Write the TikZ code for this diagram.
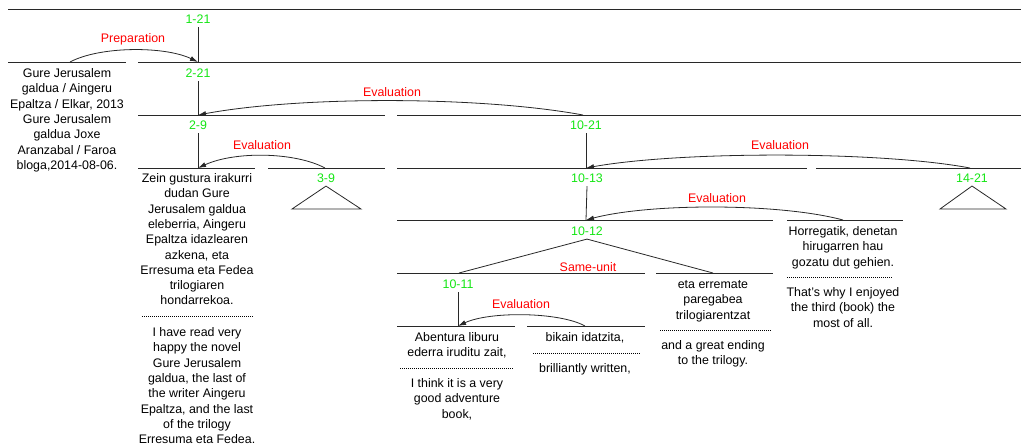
\documentclass[tikz,border=0pt]{standalone}
\usepackage{fontspec}
\setmainfont{Liberation Sans}
\usetikzlibrary{arrows.meta}
\definecolor{spangreen}{RGB}{20,230,20}
\definecolor{relred}{RGB}{255,0,0}
\definecolor{linegray}{RGB}{40,40,40}
\begin{document}
\begin{tikzpicture}[x=1pt,y=-1pt,
  every node/.style={font=\fontsize{12.4}{15.3}\selectfont},
  span/.style={text=spangreen, inner sep=3.5pt},
  rel/.style={text=relred, inner sep=0pt},
  seg/.style={draw=linegray, line width=0.8pt},
  txt/.style={align=center, inner sep=0pt, anchor=north},
  sep/.style={draw=black, line width=0.9pt, dash pattern=on 1pt off 1pt},
  arc/.style={draw=linegray, line width=0.8pt, -{Latex[length=8pt,width=5pt]}},
  tri/.style={draw=linegray, line width=0.8pt}
]
\useasboundingbox (0,0) rectangle (1021,447);

% horizontal span lines
\foreach \yy/\xa/\xb in {9/8/1021, 62/8/126, 62/138/1021,
    115/138/385, 115/397/1021,
    168/138/255, 168/268/385, 168/397/807, 168/816/1021,
    220/397/773, 220/787/903,
    273/397/645, 273/656/773,
    326/397/515, 326/527/645}
  \draw[seg] (\xa,\yy) -- (\xb,\yy);

% span labels
\node[span] (s121)  at (198,19)  {1-21};
\node[span] (s221)  at (198,73)  {2-21};
\node[span] (s29)   at (198,125) {2-9};
\node[span] (s1021) at (586,125) {10-21};
\node[span] (s39)   at (326,178) {3-9};
\node[span] (s1013) at (587,178) {10-13};
\node[span] (s1421) at (972,178) {14-21};
\node[span] (s1012) at (587,231) {10-12};
\node[span] (s1011) at (458,284) {10-11};

% attachment points
\coordinate (p121)  at (198,62);
\coordinate (p221)  at (198,115);
\coordinate (p29)   at (198,168);
\coordinate (p1021) at (586,168);
\coordinate (p1013) at (586,220);
\coordinate (p1011) at (458,326);
\coordinate (j1011) at (459,273);
\coordinate (jeta)  at (713,273);
\coordinate (eprep) at (70,62);
\coordinate (e1021) at (583,115);
\coordinate (e39)   at (325,168);
\coordinate (e1421) at (970,168);
\coordinate (ehor)  at (843,220);
\coordinate (ebik)  at (585,326);

% nucleus links
\draw[seg] (s121.south) -- (p121);
\draw[seg] (s221.south) -- (p221);
\draw[seg] (s29.south) -- (p29);
\draw[seg] (s1021.south) -- (p1021);
\draw[seg] (s1013.south) -- (p1013);
\draw[seg] (s1011.south) -- (p1011);
\draw[seg] (s1012.south) -- (j1011);
\draw[seg] (s1012.south) -- (jeta);

% collapsed subtrees
\draw[tri] (s39.south) -- (292,209) -- (361,209) -- cycle;
\draw[tri] (s1421.south) -- (940,209) -- (1006,209) -- cycle;

% relation arcs
\draw[arc] (eprep) .. controls (100,46) and (165,46) .. (p121);
\draw[arc] (e1021) .. controls (480,96) and (300,96) .. (p221);
\draw[arc] (e39) .. controls (295,152) and (235,151) .. (p29);
\draw[arc] (e1421) .. controls (880,151) and (680,151) .. (p1021);
\draw[arc] (ehor) .. controls (780,203) and (650,203) .. (p1013);
\draw[arc] (ebik) .. controls (560,312) and (490,311) .. (p1011);

% relation names
\node[rel] (rprep) at (133,39)  {Preparation};
\node[rel] (rev1)  at (392,92)  {Evaluation};
\node[rel] (rev2)  at (262,145) {Evaluation};
\node[rel] (rev3)  at (780,145) {Evaluation};
\node[rel] (rev4)  at (717,198) {Evaluation};
\node[rel] (rev5)  at (521,304) {Evaluation};
\node[rel] (rsu)   at (588,267) {Same-unit};

% segment texts
\node[txt] (tsrc) at (67,66.6) {\strut Gure Jerusalem\\ galdua / Aingeru\\ Epaltza / Elkar, 2013\\ Gure Jerusalem\\ galdua Joxe\\ Aranzabal / Faroa\\ bloga,2014-08-06.};

\node[txt] (b29) at (197,171.6) {\strut Zein gustura irakurri\\ dudan Gure\\ Jerusalem galdua\\ eleberria, Aingeru\\ Epaltza idazlearen\\ azkena, eta\\ Erresuma eta Fedea\\ trilogiaren\\ hondarrekoa.};
\draw[sep] (142,316) -- (254,316);
\node[txt] (e29) at (197,325.6) {\strut I have read very\\ happy the novel\\ Gure Jerusalem\\ galdua, the last of\\ the writer Aingeru\\ Epaltza, and the last\\ of the trilogy\\ Erresuma eta Fedea.};

\node[txt] (b1011) at (457,330.6) {\strut Abentura liburu\\ ederra iruditu zait,};
\draw[sep] (400,368) -- (513,368);
\node[txt] (e1011) at (457,376.6) {\strut I think it is a very\\ good adventure\\ book,};

\node[txt] (bbik) at (585,330.6) {\strut bikain idatzita,};
\draw[sep] (533,353) -- (640,353);
\node[txt] (tbik) at (585,361.6) {\strut brilliantly written,};

\node[txt] (beta) at (713,277.6) {\strut eta erremate\\ paregabea\\ trilogiarentzat};
\draw[sep] (660,330) -- (772,330);
\node[txt] (teta) at (713,338.6) {\strut and a great ending\\ to the trilogy.};

\node[txt] (bhor) at (843,224.6) {\strut Horregatik, denetan\\ hirugarren hau\\ gozatu dut gehien.};
\draw[sep] (787,277) -- (893,277);
\node[txt] (thor) at (843,285.6) {\strut That's why I enjoyed\\ the third (book) the\\ most of all.};
\end{tikzpicture}
\end{document}
